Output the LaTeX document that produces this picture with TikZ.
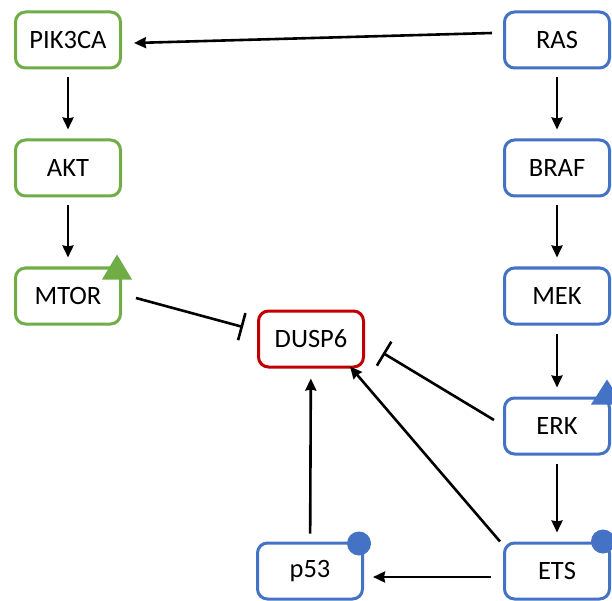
\documentclass[tikz,border=0pt]{standalone}
\usepackage{fontspec}
\setmainfont{Carlito}
\usetikzlibrary{arrows.meta, positioning}
\definecolor{pgreen}{HTML}{70AD47}
\definecolor{pblue}{HTML}{4472C4}
\definecolor{pred}{HTML}{C00000}

\begin{document}
\begin{tikzpicture}[x=1pt, y=1pt,
		main/.style = {draw, rounded corners=10pt, line width=3pt, fill=white, minimum width=105pt, minimum height=56pt, font=\fontsize{26.5}{30}\selectfont},
		pathway/.style = {main, draw=pgreen},
		mapk/.style = {main, draw=pblue},
		target/.style = {main, draw=pred},
		act/.style = {line width=2.6pt, -{Stealth[length=12pt, width=11pt, inset=1pt]}},
		down/.style = {act, shorten <=8pt, shorten >=9pt},
		inh/.style = {line width=2.6pt, -{Bar[width=28pt, line width=2.6pt]}}]
		\useasboundingbox (0,0) rectangle (612,-601);
		\node[pathway] (pik) at (68,-40) {PIK3CA};
		\node[pathway] (akt) at (68,-168) {AKT};
		\node[pathway] (mtor) at (68,-296) {MTOR};
		\node[mapk] (ras) at (557,-40) {RAS};
		\node[mapk] (braf) at (557,-168) {BRAF};
		\node[mapk] (mek) at (557,-296) {MEK};
		\node[mapk] (erk) at (557,-426) {ERK};
		\node[mapk] (ets) at (557,-571) {ETS};
		\node[mapk] (p53) at (310,-571) {p53};
		\node[target] (dusp) at (311,-339) {DUSP6};
		% markers
		\fill[pgreen] ([shift={(-5,12)}]mtor.north east) -- ([shift={(-20,-13)}]mtor.north east) -- ([shift={(10,-13)}]mtor.north east) -- cycle;
		\fill[pblue] ([shift={(-4,17)}]erk.north east) -- ([shift={(-20,-8)}]erk.north east) -- ([shift={(12,-8)}]erk.north east) -- cycle;
		\fill[pblue] ([shift={(-5,-2)}]p53.north east) circle (12);
		\fill[pblue] ([shift={(-8,0)}]ets.north east) circle (12);
		% edges
		\draw[act] ([shift={(-11,7)}]ras.west) -- ([shift={(12,-3)}]pik.east);
		\draw[down] (pik) -- (akt);
		\draw[down] (akt) -- (mtor);
		\draw[down] (ras) -- (braf);
		\draw[down] (braf) -- (mek);
		\draw[down] (mek) -- (erk);
		\draw[down] (erk) -- (ets);
		\draw[inh] ([shift={(14,-2)}]mtor.east) -- ([shift={(-14,12)}]dusp.west);
		\draw[inh] ([shift={(-9,6)}]erk.west) -- ([shift={(18,-14)}]dusp.east);
		\draw[act] ([shift={(-3,0)}]ets.north west) -- ([shift={(39,2)}]dusp.south);
		\draw[act, shorten <=8pt, shorten >=10pt] (p53) -- (dusp);
		\draw[act, shorten <=12pt, shorten >=9pt] ([yshift=-6]ets.west) -- ([yshift=-6]p53.east);
\end{tikzpicture}
\end{document}
